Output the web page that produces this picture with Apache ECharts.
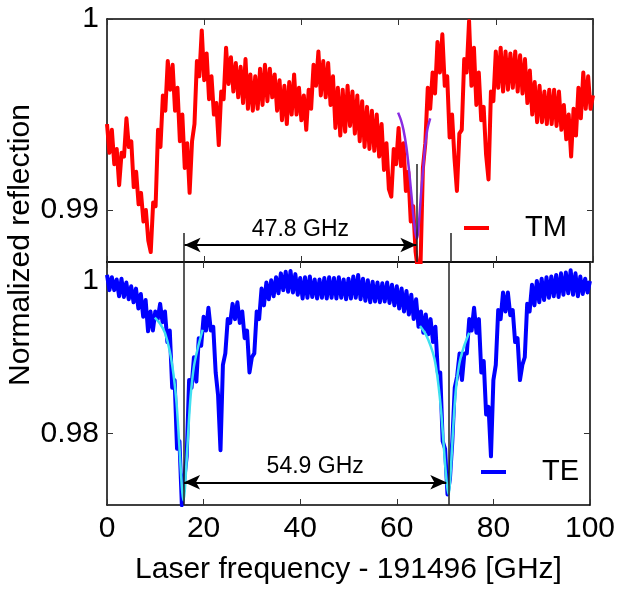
<!DOCTYPE html>
<html>
<head>
<meta charset="utf-8">
<script src="https://cdn.jsdelivr.net/npm/echarts@6.0.0/dist/echarts.min.js"></script>
<style>
html,body{margin:0;padding:0;background:#fff;}
#chart{width:618px;height:593px;}
</style>
</head>
<body>
<div id="chart"></div>
<script>
// ---- data ----
var freq = [0,0.5,1,1.5,2,2.5,3,3.5,4,4.5,5,5.5,6,6.5,7,7.5,8,8.5,9,9.5,
10,10.5,11,11.5,12,12.5,13,13.5,14,14.5,15,15.5,16,16.5,17,17.5,18,18.5,19,19.5,
20,20.5,21,21.5,22,22.5,23,23.5,24,24.5,25,25.5,26,26.5,27,27.5,28,28.5,29,29.5,
30,30.5,31,31.5,32,32.5,33,33.5,34,34.5,35,35.5,36,36.5,37,37.5,38,38.5,39,39.5,
40,40.5,41,41.5,42,42.5,43,43.5,44,44.5,45,45.5,46,46.5,47,47.5,48,48.5,49,49.5,
50,50.5,51,51.5,52,52.5,53,53.5,54,54.5,55,55.5,56,56.5,57,57.5,58,58.5,59,59.5,
60,60.5,61,61.5,62,62.5,63,63.5,64,64.5,65,65.5,66,66.5,67,67.5,68,68.5,69,69.5,
70,70.5,71,71.5,72,72.5,73,73.5,74,74.5,75,75.5,76,76.5,77,77.5,78,78.5,79,79.5,
80,80.5,81,81.5,82,82.5,83,83.5,84,84.5,85,85.5,86,86.5,87,87.5,88,88.5,89,89.5,
90,90.5,91,91.5,92,92.5,93,93.5,94,94.5,95,95.5,96,96.5,97,97.5,98,98.5,99,99.5,100];

var tmRefl = [0.9945,0.9930,0.9942,0.9924,0.9932,0.9913,0.9930,0.9928,0.9948,0.9933,
0.9936,0.9912,0.9920,0.9903,0.9909,0.9894,0.9900,0.9884,0.9878,0.9904,
0.9902,0.9942,0.9933,0.9960,0.9952,0.9978,0.9963,0.9976,0.9952,0.9964,
0.9936,0.9950,0.9922,0.9935,0.9909,0.9936,0.9945,0.9978,0.9970,0.9994,
0.9968,0.9982,0.9958,0.9970,0.9950,0.9956,0.9934,0.9962,0.9958,0.9985,
0.9966,0.9980,0.9962,0.9977,0.9959,0.9975,0.9956,0.9979,0.9953,0.9971,
0.9952,0.9970,0.9953,0.9974,0.9955,0.9976,0.9957,0.9974,0.9959,0.9971,
0.9952,0.9968,0.9947,0.9965,0.9945,0.9967,0.9950,0.9971,0.9950,0.9964,
0.9947,0.9960,0.9942,0.9963,0.9953,0.9976,0.9965,0.9983,0.9960,0.9978,
0.9959,0.9977,0.9955,0.9970,0.9943,0.9964,0.9939,0.9963,0.9941,0.9965,
0.9944,0.9962,0.9940,0.9960,0.9936,0.9957,0.9933,0.9954,0.9932,0.9952,
0.9931,0.9950,0.9928,0.9945,0.9921,0.9935,0.9911,0.9907,0.9932,0.9924,
0.9943,0.9923,0.9935,0.9910,0.9920,0.9894,0.9902,0.9878,0.9868,0.9870,
0.9922,0.9935,0.9964,0.9953,0.9972,0.9961,0.9988,0.9972,0.9992,0.9965,
0.9970,0.9938,0.9950,0.9927,0.9910,0.9940,0.9942,0.9979,0.9972,0.9999,
0.9965,0.9985,0.9955,0.9972,0.9947,0.9954,0.9929,0.9916,0.9962,0.9957,
0.9983,0.9964,0.9985,0.9962,0.9983,0.9963,0.9982,0.9964,0.9983,0.9962,
0.9981,0.9961,0.9979,0.9956,0.9973,0.9950,0.9967,0.9946,0.9965,0.9946,
0.9962,0.9945,0.9963,0.9945,0.9963,0.9944,0.9962,0.9942,0.9955,0.9937,
0.9950,0.9928,0.9953,0.9939,0.9964,0.9948,0.9972,0.9953,0.9970,0.9953,0.9960];

var teRefl = [1.0008,0.9988,1.0005,0.9988,1.0002,0.9980,1.0003,0.9979,0.9998,0.9976,
0.9993,0.9972,0.9990,0.9964,0.9983,0.9953,0.9975,0.9934,0.9960,0.9935,
0.9960,0.9950,0.9970,0.9946,0.9960,0.9920,0.9935,0.9860,0.9870,0.9780,
0.9790,0.9706,0.9740,0.9770,0.9870,0.9860,0.9900,0.9868,0.9925,0.9915,
0.9953,0.9935,0.9965,0.9935,0.9940,0.9880,0.9850,0.9778,0.9890,0.9905,
0.9950,0.9945,0.9970,0.9950,0.9972,0.9945,0.9960,0.9925,0.9935,0.9880,
0.9900,0.9905,0.9960,0.9950,0.9990,0.9968,0.9998,0.9976,1.0001,0.9980,
1.0005,0.9984,1.0010,0.9988,1.0012,0.9986,1.0013,0.9985,1.0009,0.9982,
1.0004,0.9977,1.0005,0.9978,1.0006,0.9979,1.0002,0.9977,1.0002,0.9978,
1.0004,0.9977,1.0005,0.9978,1.0004,0.9977,1.0005,0.9978,1.0002,0.9976,
1.0003,0.9977,1.0006,0.9978,1.0008,0.9976,1.0003,0.9974,1.0001,0.9972,
0.9999,0.9973,0.9998,0.9972,0.9997,0.9973,0.9998,0.9971,0.9995,0.9968,
0.9993,0.9964,0.9990,0.9960,0.9987,0.9956,0.9982,0.9950,0.9976,0.9940,
0.9960,0.9932,0.9956,0.9930,0.9950,0.9920,0.9940,0.9880,0.9880,0.9790,
0.9780,0.9720,0.9740,0.9790,0.9860,0.9875,0.9905,0.9870,0.9905,0.9905,
0.9950,0.9935,0.9965,0.9932,0.9950,0.9880,0.9895,0.9825,0.9835,0.9770,
0.9870,0.9890,0.9962,0.9950,0.9985,0.9960,0.9985,0.9955,0.9962,0.9920,
0.9925,0.9870,0.9890,0.9900,0.9970,0.9960,0.9995,0.9968,1.0000,0.9972,
1.0003,0.9975,1.0005,0.9978,1.0006,0.9980,1.0008,0.9979,1.0010,0.9982,
1.0011,0.9984,1.0014,0.9982,1.0010,0.9980,1.0006,0.9983,1.0003,0.9985,1.0000];

var tmFitFreq = [59.9,60.5,61.0,61.6,62.1,62.6,63.0,63.4,63.75,64.0,64.3,64.6,65.0,65.4,65.9,66.5];
var tmFitRefl = [0.9951,0.9947,0.9942,0.9933,0.9922,0.9909,0.9898,0.9889,0.9885,0.9888,0.9897,0.9908,0.9920,0.9932,0.9942,0.9948];

var teFit1Freq = [9.9,11.0,12.0,13.0,13.8,14.4,14.9,15.3,15.6,15.85,16.1,16.4,16.8,17.3,18.0,18.8,19.8];
var teFit1Refl = [0.9952,0.9944,0.9932,0.9908,0.9876,0.9840,0.9792,0.9750,0.9722,0.9712,0.9725,0.9755,0.9800,0.9848,0.9888,0.9912,0.9936];
var teFit2Freq = [64.8,66.0,67.0,67.8,68.5,69.1,69.6,70.0,70.4,70.75,71.0,71.3,71.7,72.2,72.9,73.8,75.0];
var teFit2Refl = [0.9941,0.9930,0.9915,0.9898,0.9870,0.9835,0.9795,0.9760,0.9732,0.9720,0.9735,0.9765,0.9810,0.9855,0.9890,0.9912,0.9932];

var xTicks = [0, 20, 40, 60, 80, 100];
var tmTicks = [0.99, 1];
var teTicks = [0.98, 1];
var tmRange = [0.98728, 1.0];
var teRange = [0.97062, 1.00249];

// resonance markers (GHz) and separations
var resTE1 = 15.85, resTM2 = 63.75, resTE2 = 70.75;
var tmSepLabel = '47.8 GHz', teSepLabel = '54.9 GHz';
var tmArrowLevel = 0.98817, teArrowLevel = 0.97360;
var tmMarkTop = 0.98880, tmMark2Top = 0.99241;

function zip(a, b) { return a.map(function (v, i) { return [v, b[i]]; }); }

var FONT = '"Liberation Sans", Arial, Helvetica, sans-serif';
var black = '#000';

function xAxisDef(grid, pos, showLabel) {
  var ax = {
    type: 'value', gridIndex: grid, position: pos, min: 0, max: 100, interval: 20,
    axisLine: { show: true, onZero: false, lineStyle: { color: black, width: 1.5 } },
    axisTick: { show: true, inside: true, length: 6, lineStyle: { color: '#333', width: 1 } },
    axisLabel: { show: showLabel, color: black, fontSize: 30, fontFamily: FONT, margin: 9 },
    splitLine: { show: false }
  };
  if (showLabel) {
    ax.name = 'Laser frequency - 191496 [GHz]';
    ax.nameLocation = 'middle';
    ax.nameGap = 50;
    ax.nameTextStyle = { color: black, fontSize: 30, fontFamily: FONT };
  }
  return ax;
}
function yAxisDef(grid, pos, range, ticks, showLabel) {
  return {
    type: 'value', gridIndex: grid, position: pos, min: range[0], max: range[1],
    axisLine: { show: true, onZero: false, lineStyle: { color: black, width: 1.5 } },
    axisTick: { show: true, inside: true, length: 6, customValues: ticks, lineStyle: { color: '#333', width: 1 } },
    axisLabel: { show: showLabel, customValues: ticks, color: black, fontSize: 30, fontFamily: FONT, margin: 8,
      formatter: function (v) { return String(+v.toFixed(4)); } },
    splitLine: { show: false }
  };
}

var lineSolid = { color: '#222', width: 1.5, type: 'solid' };

var option = {
  animation: false,
  backgroundColor: '#fff',
  grid: [
    { left: 107, right: 25, top: 19, height: 243 },
    { left: 107, right: 25, top: 262, height: 243 }
  ],
  xAxis: [
    xAxisDef(0, 'bottom', false), xAxisDef(0, 'top', false),
    xAxisDef(1, 'bottom', true), xAxisDef(1, 'top', false)
  ],
  yAxis: [
    yAxisDef(0, 'left', tmRange, tmTicks, true), yAxisDef(0, 'right', tmRange, tmTicks, false),
    yAxisDef(1, 'left', teRange, teTicks, true), yAxisDef(1, 'right', teRange, teTicks, false)
  ],
  legend: [
    { data: ['TM'], left: 464, top: 213, padding: 0, icon: 'rect', itemWidth: 25, itemHeight: 4,
      textStyle: { fontSize: 29, fontFamily: FONT, color: black, padding: [0, 0, 0, 31], lineHeight: 30 } },
    { data: ['TE'], left: 481, top: 457, padding: 0, icon: 'rect', itemWidth: 25, itemHeight: 4,
      textStyle: { fontSize: 29, fontFamily: FONT, color: black, padding: [0, 0, 0, 31], lineHeight: 30 } }
  ],
  graphic: [
    { type: 'text', x: 21, y: 245, rotation: Math.PI / 2,
      style: { text: 'Normalized reflection', fontSize: 30, fontFamily: FONT, fill: black,
        align: 'center', verticalAlign: 'middle' } }
  ],
  series: [
    { name: 'TM', type: 'line', xAxisIndex: 0, yAxisIndex: 0, data: zip(freq, tmRefl),
      showSymbol: false, color: '#ff0000', lineStyle: { color: '#ff0000', width: 4, join: 'round' }, z: 2 },
    { name: 'TM fit', type: 'line', xAxisIndex: 0, yAxisIndex: 0, data: zip(tmFitFreq, tmFitRefl),
      showSymbol: false, smooth: 0.3, color: '#8a2be2', lineStyle: { color: '#8a2be2', width: 2.5 }, z: 3 },
    { name: 'TE', type: 'line', xAxisIndex: 2, yAxisIndex: 2, data: zip(freq, teRefl),
      showSymbol: false, color: '#0000ff', lineStyle: { color: '#0000ff', width: 4, join: 'round' }, z: 2 },
    { name: 'TE fit 1', type: 'line', xAxisIndex: 2, yAxisIndex: 2, data: zip(teFit1Freq, teFit1Refl),
      showSymbol: false, smooth: 0.3, color: '#3fe0f0', lineStyle: { color: '#3fe0f0', width: 2.5 }, z: 3 },
    { name: 'TE fit 2', type: 'line', xAxisIndex: 2, yAxisIndex: 2, data: zip(teFit2Freq, teFit2Refl),
      showSymbol: false, smooth: 0.3, color: '#3fe0f0', lineStyle: { color: '#3fe0f0', width: 2.5 }, z: 3 },
    // top annotations
    { name: 'markTop', type: 'line', xAxisIndex: 0, yAxisIndex: 0, data: [], z: 5,
      markLine: { silent: true, symbol: ['none', 'none'], lineStyle: lineSolid, label: { show: false },
        data: [
          [{ coord: [resTE1, tmMarkTop] }, { coord: [resTE1, tmRange[0]] }],
          [{ coord: [resTM2, tmMark2Top] }, { coord: [resTM2, tmRange[0]] }],
          [{ coord: [resTE2, tmMarkTop] }, { coord: [resTE2, tmRange[0]] }]
        ] } },
    { name: 'arrowTop', type: 'line', xAxisIndex: 0, yAxisIndex: 0, data: [], z: 5,
      markLine: { silent: true, symbol: ['arrow', 'arrow'], symbolSize: [11, 16],
        lineStyle: { color: black, width: 2, type: 'solid' }, itemStyle: { color: black },
        label: { show: true, position: 'insideMiddleTop', distance: 4, formatter: tmSepLabel,
          color: black, fontSize: 23, fontFamily: FONT },
        data: [[{ coord: [resTE1 + 0.1, tmArrowLevel] }, { coord: [resTM2 - 0.1, tmArrowLevel] }]] } },
    // bottom annotations
    { name: 'markBot', type: 'line', xAxisIndex: 2, yAxisIndex: 2, data: [], z: 5,
      markLine: { silent: true, symbol: ['none', 'none'], lineStyle: lineSolid, label: { show: false },
        data: [
          [{ coord: [resTE1, teRange[1]] }, { coord: [resTE1, teRange[0]] }],
          [{ coord: [resTE2, teRange[1]] }, { coord: [resTE2, teRange[0]] }]
        ] } },
    { name: 'arrowBot', type: 'line', xAxisIndex: 2, yAxisIndex: 2, data: [], z: 5,
      markLine: { silent: true, symbol: ['arrow', 'arrow'], symbolSize: [11, 16],
        lineStyle: { color: black, width: 2, type: 'solid' }, itemStyle: { color: black },
        label: { show: true, position: 'insideMiddleTop', distance: 4, formatter: teSepLabel,
          color: black, fontSize: 23, fontFamily: FONT },
        data: [[{ coord: [resTE1 + 0.1, teArrowLevel] }, { coord: [resTE2 - 0.5, teArrowLevel] }]] } }
  ]
};

var chart = echarts.init(document.getElementById('chart'), null, { renderer: 'canvas' });
chart.setOption(option);
</script>
</body>
</html>
